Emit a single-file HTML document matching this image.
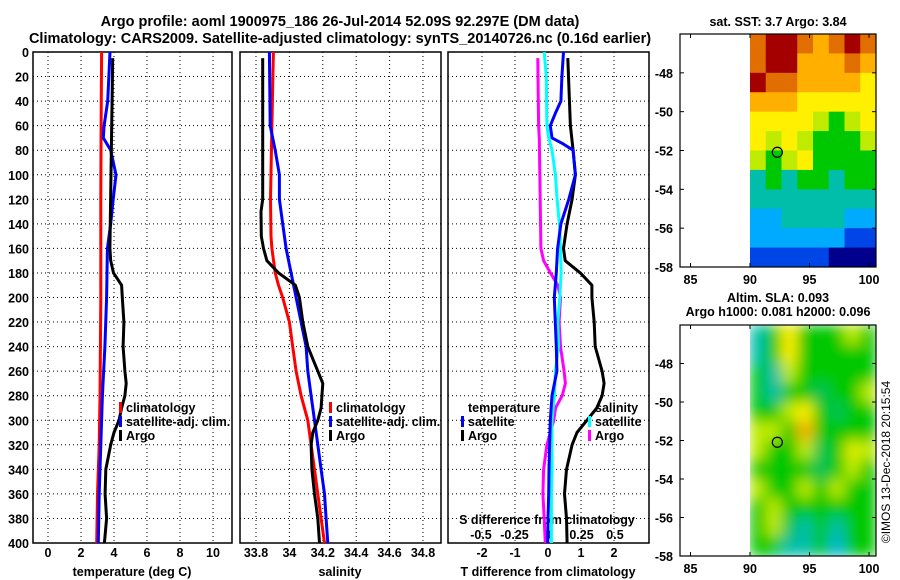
<!DOCTYPE html>
<html><head><meta charset="utf-8"><style>
html,body{margin:0;padding:0;background:#fff;}
svg{display:block;font-family:"Liberation Sans",Arial,sans-serif;font-weight:bold;}
</style></head><body>
<svg id="chart" width="900" height="580" viewBox="0 0 900 580" xmlns="http://www.w3.org/2000/svg">
<text x="340" y="26" font-size="14.5" text-anchor="middle">Argo profile: aoml 1900975_186 26-Jul-2014 52.09S 92.297E (DM data)</text>
<text x="340" y="43" font-size="14.5" text-anchor="middle">Climatology: CARS2009. Satellite-adjusted climatology: synTS_20140726.nc (0.16d earlier)</text>
<text x="778" y="26" font-size="12.5" text-anchor="middle">sat. SST: 3.7 Argo: 3.84</text>
<text x="778" y="302" font-size="12.5" text-anchor="middle">Altim. SLA: 0.093</text>
<text x="778" y="316" font-size="12.5" text-anchor="middle">Argo h1000: 0.081 h2000: 0.096</text>
<text transform="translate(890,462) rotate(-90)" font-size="12" font-weight="normal" text-anchor="middle">©IMOS 13-Dec-2018 20:15:54</text>
<g id="g"></g>
</svg>
<script>
// ---- data ----
const depthTicks=[0,20,40,60,80,100,120,140,160,180,200,220,240,260,280,300,320,340,360,380,400];
const tempTicks=[0,2,4,6,8,10];
const salTicks=[33.8,34,34.2,34.4,34.6,34.8];
const salTickLabels=["33.8","34","34.2","34.4","34.6","34.8"];
const tdiffTicks=[-2,-1,0,1,2];
const sdiffTicks=[-0.5,-0.25,0,0.25,0.5];
const sdiffTickLabels=["-0.5","-0.25","0","0.25","0.5"];
const tClimD=[0,60,120,200,280,320,360,400];
const tClim=[3.25,3.22,3.2,3.2,3.15,3.1,3.0,2.95];
const tSatD=[0,40,60,70,80,100,120,140,160,200,240,280,320,360,400];
const tSat=[3.76,3.62,3.4,3.35,3.8,4.12,3.95,3.8,3.6,3.55,3.45,3.3,3.2,3.1,3.05];
const tArgoD=[5,160,170,180,190,200,220,240,260,270,280,290,300,310,320,340,360,380,400];
const tArgo=[3.92,3.75,3.8,3.97,4.46,4.5,4.6,4.55,4.66,4.74,4.66,4.46,4.3,4.0,3.8,3.5,3.46,3.55,3.42];
const sClimD=[0,60,120,150,160,180,190,200,220,240,260,280,300,320,340,360,380,400];
const sClim=[33.904,33.895,33.887,33.89,33.895,33.915,33.935,33.96,34.0,34.02,34.04,34.07,34.11,34.13,34.15,34.17,34.19,34.21];
const sSatD=[0,60,80,100,120,140,160,180,200,220,240,260,280,300,320,340,360,380,400];
const sSat=[33.88,33.885,33.915,33.94,33.94,33.96,33.98,34.01,34.04,34.07,34.1,34.11,34.13,34.15,34.17,34.19,34.21,34.22,34.23];
const sArgoD=[5,120,130,150,160,170,180,190,200,220,240,250,260,270,290,300,310,320,340,360,380,400];
const sArgo=[33.84,33.84,33.83,33.832,33.845,33.865,33.935,34.036,34.06,34.08,34.11,34.14,34.17,34.2,34.19,34.17,34.14,34.13,34.135,34.15,34.17,34.18];
const dtSatD=[0,20,40,50,60,70,75,80,100,120,140,160,180,200,220,240,260,280,300,320,340,360,380,400];
const dtSat=[0.47,0.42,0.39,0.22,0.07,0.12,0.47,0.76,0.83,0.63,0.39,0.29,0.25,0.19,0.22,0.25,0.27,0.12,0.07,0.05,0.03,0.02,0.0,-0.01];
const dtArgoD=[5,60,80,100,120,140,160,170,180,190,200,220,240,260,270,280,290,300,310,320,340,360,380,400];
const dtArgo=[0.6,0.68,0.76,0.83,0.73,0.58,0.47,0.52,0.98,1.33,1.33,1.4,1.43,1.64,1.7,1.64,1.48,1.18,0.88,0.73,0.56,0.5,0.56,0.58];
const dsSatD=[0,20,60,70,80,100,120,140,160,180,200,220,240,260,280,300,320,340,360,380,400];
const dsSat=[-0.028,-0.013,-0.008,0.005,0.03,0.055,0.068,0.085,0.093,0.098,0.088,0.073,0.078,0.055,0.048,0.03,0.03,0.03,0.025,0.025,0.025];
const dsArgoD=[5,60,70,120,160,170,180,190,200,220,240,260,270,280,290,300,310,320,340,360,380,400];
const dsArgo=[-0.076,-0.07,-0.065,-0.058,-0.053,-0.033,0.018,0.073,0.093,0.083,0.093,0.12,0.13,0.106,0.056,0.043,0.018,-0.008,-0.033,-0.038,-0.028,-0.02];
const lonTicks=[85,90,95,100];
const latTicks=[-48,-50,-52,-54,-56,-58];
const sstGrid=[[8,9,9,8,7,8,9,8],[8,9,9,7,7,7,8,7],[9,8,8,7,7,7,7,6],[7,7,7,6,6,6,6,6],[6,6,6,6,5,4,5,6],[6,5,6,5,4,4,4,5],[5,4,5,6,4,4,4,4],[3,4,3,4,4,3,4,4],[3,3,3,3,3,3,3,3],[2,2,3,3,3,3,2,2],[2,2,2,2,2,2,1,1],[1,1,1,1,1,0,0,0]];
const slaGrid=[[3,4,6,4,4,4,5,4],[3,4,6,4,4,4,4,4],[4,3,5,4,4,4,4,4],[4,3,4,4,3.5,4,4,5],[4,4,5,6,4,3.5,4,4],[5,5,4,7,4,4,4,4],[5,4,4,5,3.5,4,5.5,5],[4,4,4,4,3.5,4,5,4],[5,4,4,5,4,5,4,4],[4,5,4,4,4,4,4,4],[4,5,3.5,3,4,3,4,4],[4,4,3,3,4,2.5,4,4]];
const floatLon=92.297, floatLat=-52.09;

// ---- drawing ----
const NS="http://www.w3.org/2000/svg";
const G=document.getElementById('g');
function mk(tag,attrs,parent){const e=document.createElementNS(NS,tag);for(const k in attrs)e.setAttribute(k,attrs[k]);(parent||G).appendChild(e);return e;}
const Y0=52,Y1=543;
const yD=d=>Y0+d*(Y1-Y0)/400;
const xT=t=>48+t*16.5;
const xS=s=>256+(s-33.8)*167;
const xDT=t=>548+t*33;
const xDS=s=>548+s*134;
const panels=[[33,232],[240,441],[448,649]];
panels.forEach((p,i)=>{
  const r=mk('rect',{x:p[0],y:Y0,width:p[1]-p[0],height:Y1-Y0,fill:'none',stroke:'#000','stroke-width':1.5});
  
  
  depthTicks.forEach(d=>{
    if(d>0&&d<400){const l=mk('line',{x1:p[0],x2:p[1],y1:yD(d),y2:yD(d),stroke:'#000','stroke-dasharray':'1 3','stroke-width':1});
    
    }
  });
});
depthTicks.forEach(d=>{
  const t=mk('text',{x:29,y:yD(d)+5,'font-size':12.5,'text-anchor':'end'});t.textContent=d;
  
  
});
function xgrid(vals,fx,labels,yl){vals.forEach((v,i)=>{const x=fx(v);
  const l=mk('line',{x1:x,x2:x,y1:Y0,y2:Y1,stroke:'#000','stroke-dasharray':'1 3','stroke-width':1});
  
  
  const t=mk('text',{x:x,y:yl,'font-size':12.5,'text-anchor':'middle'});t.textContent=labels[i];
  
  });}
xgrid(tempTicks,xT,tempTicks,557);
xgrid(salTicks,xS,salTickLabels,557);
xgrid(tdiffTicks,xDT,tdiffTicks,557);
sdiffTicks.forEach((v,i)=>{const t=mk('text',{x:xDS(v),y:539,'font-size':12.5,'text-anchor':'middle'});t.textContent=sdiffTickLabels[i];
  
  });
[['temperature (deg C)',132],['salinity',340],['T difference from climatology',548]].forEach(a=>{
  const t=mk('text',{x:a[1],y:576,'font-size':12.5,'text-anchor':'middle'});t.textContent=a[0];
  
  });
{const t=mk('text',{x:547,y:524,'font-size':12.5,'text-anchor':'middle'});t.textContent='S difference from climatology';

}
function line(ds,vs,fx,col,name){const pts=ds.map((d,i)=>fx(vs[i]).toFixed(1)+','+yD(d).toFixed(1)).join(' ');
  const l=mk('polyline',{points:pts,fill:'none',stroke:col,'stroke-width':3,'stroke-linejoin':'round'});
  
  }
line(tClimD,tClim,xT,'#ff0000','temp-climatology-line');
line(tSatD,tSat,xT,'#0000ff','temp-satellite-line');
line(tArgoD,tArgo,xT,'#000000','temp-argo-line');
line(sClimD,sClim,xS,'#ff0000','sal-climatology-line');
line(sSatD,sSat,xS,'#0000ff','sal-satellite-line');
line(sArgoD,sArgo,xS,'#000000','sal-argo-line');
line(dsArgoD,dsArgo,xDS,'#ff00ff','sdiff-argo-line');
line(dsSatD,dsSat,xDS,'#00ffff','sdiff-satellite-line');
line(dtArgoD,dtArgo,xDT,'#000000','tdiff-argo-line');
line(dtSatD,dtSat,xDT,'#0000ff','tdiff-satellite-line');
function leg(x,y,col,txt,name){
  if(col){const r=mk('rect',{x:x-7,y:y-10,width:3,height:11,fill:col});
  
  }
  const t=mk('text',{x:x,y:y,'font-size':12.5});t.textContent=txt;
  
  }
leg(126,412,'#ff0000','climatology','legend-climatology');
leg(126,426,'#0000ff','satellite-adj. clim.','legend-satellite-adj');
leg(126,440,'#000000','Argo','legend-argo');
leg(336,412,'#ff0000','climatology','legend2-climatology');
leg(336,426,'#0000ff','satellite-adj. clim.','legend2-satellite-adj');
leg(336,440,'#000000','Argo','legend2-argo');
leg(468,412,null,'temperature','legend3-temperature');
leg(468,426,'#0000ff','satellite','legend3-temp-satellite');
leg(468,440,'#000000','Argo','legend3-temp-argo');
leg(595,412,null,'salinity','legend3-salinity');
leg(595,426,'#00ffff','satellite','legend3-sal-satellite');
leg(595,440,'#ff00ff','Argo','legend3-sal-argo');

// maps
const pal=[[0,0,140],[0,70,230],[0,170,255],[0,190,170],[0,200,0],[190,235,0],[255,240,0],[255,175,0],[225,110,0],[165,0,0]];
function col(v){v=Math.max(0,Math.min(9,v));const i=Math.min(8,Math.floor(v)),f=v-i;const a=pal[i],b=pal[i+1];
  return 'rgb('+a.map((c,k)=>Math.round(c+(b[k]-c)*f)).join(',')+')';}
function map(top,bot,grid,name,blur){
  const L=680,R=876;
  const xL=lon=>750+(lon-90)*11.9;
  const yL=lat=>top+(-46-lat)*(bot-top)/12;
  const g=mk('g',blur?{filter:'url(#bl)','clip-path':'url(#c'+name+')'}:{});
  
  
  const cp=mk('clipPath',{id:'c'+name});mk('rect',{x:750,y:top,width:R-750,height:bot-top},cp);
  const rows=grid.length,cols=grid[0].length,cw=(R-750)/cols,ch=(bot-top)/rows;
  grid.forEach((row,r)=>row.forEach((v,c)=>{
    const e=mk('rect',{x:750+c*cw,y:top+r*ch,width:cw+0.5,height:ch+0.5,fill:col(v)},g);
    
    }));
  const fr=mk('rect',{x:L,y:top,width:R-L,height:bot-top,fill:'none',stroke:'#000','stroke-width':1.2});
  
  
  latTicks.forEach(la=>{const y=yL(la);
    mk('line',{x1:L,x2:L+4,y1:y,y2:y,stroke:'#000'});mk('line',{x1:R,x2:R-4,y1:y,y2:y,stroke:'#000'});
    const t=mk('text',{x:673,y:y+5,'font-size':12.5,'text-anchor':'end'});t.textContent=la;
    
    });
  lonTicks.forEach(lo=>{const x=xL(lo);
    mk('line',{x1:x,x2:x,y1:bot,y2:bot-4,stroke:'#000'});mk('line',{x1:x,x2:x,y1:top,y2:top+4,stroke:'#000'});
    const t=mk('text',{x:x,y:bot+17,'font-size':12.5,'text-anchor':'middle'});t.textContent=lo;
    
    });
  const c=mk('circle',{cx:xL(floatLon),cy:yL(floatLat),r:5,fill:'none',stroke:'#000','stroke-width':1.2});
  
  
}
const defs=mk('defs',{});const flt=mk('filter',{id:'bl',x:'0',y:'0',width:'1',height:'1'},defs);mk('feGaussianBlur',{stdDeviation:7,edgeMode:'duplicate'},flt);
map(34,267,sstGrid,'sst-map',false);
map(325,556,slaGrid,'sla-map',true);
</script>
</body></html>
